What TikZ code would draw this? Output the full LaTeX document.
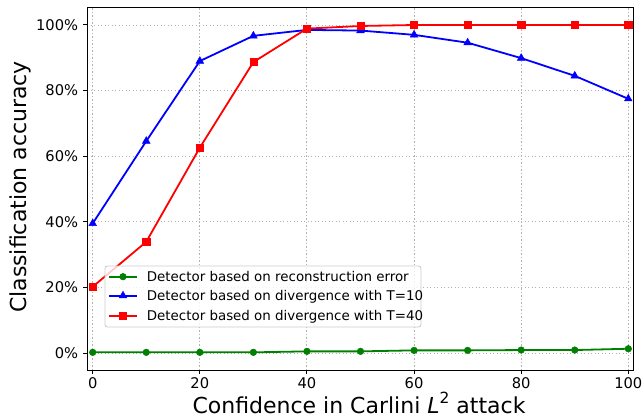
\documentclass[tikz,border=0pt]{standalone}
\usepackage{fontspec}
\setmainfont{DejaVu Sans}
\usetikzlibrary{plotmarks}
\definecolor{mplgreen}{RGB}{0,128,0}
\definecolor{mplblue}{RGB}{0,0,255}
\definecolor{mplred}{RGB}{255,0,0}
\definecolor{gridgray}{RGB}{178,178,178}
\definecolor{legendgray}{RGB}{204,204,204}
\tikzset{
  gridline/.style={gridgray, line width=0.9pt, dash pattern=on 1.3pt off 2.2pt},
  axisframe/.style={black, line width=1pt},
  tickline/.style={black, line width=1pt},
  ticklabel/.style={inner sep=0pt, font=\fontsize{14.7}{17}\selectfont},
  axislabel/.style={inner sep=0pt, font=\fontsize{22}{26}\selectfont},
  legendtext/.style={inner sep=0pt, anchor=base west, font=\fontsize{13.4}{16}\selectfont},
  legendframe/.style={draw=legendgray, line width=0.9pt, fill=white, fill opacity=0.8, rounded corners=2.5pt},
  greenser/.style={mplgreen, line width=1.8pt, mark=*, mark size=3.3pt, mark options={solid, fill=mplgreen, draw=mplgreen, line width=0.5pt}},
  blueser/.style={mplblue, line width=1.8pt, mark=triangle*, mark size=4.4pt, mark options={solid, fill=mplblue, draw=mplblue, line width=0.5pt}},
  redser/.style={mplred, line width=1.8pt, mark=square*, mark size=3.6pt, mark options={solid, fill=mplred, draw=mplred, line width=0.5pt}},
}
\begin{document}
\begin{tikzpicture}[x=1pt,y=-1pt]
\useasboundingbox (0,0) rectangle (642,417);
\begin{scope}[shift={(92.7,353)},x=5.356pt,y=3.28pt]
  % grid
  \foreach \v in {0,20,...,100} \draw[gridline] (\v,-5.2) -- (\v,105.2);
  \foreach \p in {0,20,...,100} \draw[gridline] (-1.06,\p) -- (100.9,\p);
  % series
  \draw[greenser] plot coordinates {(0,0.2) (10,0.2) (20,0.2) (30,0.2) (40,0.5) (50,0.5) (60,0.8) (70,0.8) (80,0.9) (90,0.9) (100,1.3)};
  \draw[blueser] plot coordinates {(0,39.5) (10,64.6) (20,89.0) (30,96.7) (40,98.5) (50,98.3) (60,97.0) (70,94.6) (80,89.9) (90,84.5) (100,77.5)};
  \draw[redser] plot coordinates {(0,20.2) (10,33.9) (20,62.6) (30,88.7) (40,98.9) (50,99.7) (60,100) (70,100) (80,100) (90,100) (100,100)};
  % frame
  \draw[axisframe] (-1.06,-5.2) rectangle (100.9,105.2);
  % ticks and labels
  \foreach \v in {0,20,...,100} {
    \draw[tickline] (\v,-5.2) -- ++(0pt,-4.3pt);
    \node[ticklabel] (xt\v) at (\v,-5.2) [yshift=-13.3pt] {\v};
  }
  \foreach \p in {0,20,...,100} {
    \draw[tickline] (-1.06,\p) -- ++(-4.3pt,0pt);
    \node[ticklabel, anchor=east] (yt\p) at (-1.06,\p) [xshift=-8.7pt] {\p\%};
  }
\end{scope}
% axis labels
\node[axislabel, anchor=base] (xlab) at (359,413) {Confidence in Carlini {\itshape L}\raisebox{0.42em}{\fontsize{15.4}{18}\selectfont 2} attack};
\node[axislabel, anchor=base, rotate=90] (ylab) at (27,187) {Classification accuracy};
% legend
\draw[legendframe] (105,266) rectangle (421,327);
\draw[greenser, mark=none] (109,276.7) -- (137,276.7);
\draw[blueser, mark=none] (109,295.7) -- (137,295.7);
\draw[redser, mark=none] (109,315.7) -- (137,315.7);
\path[greenser] plot[mark=*] coordinates {(123,276.7)};
\path[blueser] plot[mark=triangle*] coordinates {(123,295.7)};
\path[redser] plot[mark=square*] coordinates {(123,315.7)};
\node[legendtext] (l1) at (146.7,281.6) {Detector based on reconstruction error};
\node[legendtext] (l2) at (146.7,300.6) {Detector based on divergence with T=10};
\node[legendtext] (l3) at (146.7,320.6) {Detector based on divergence with T=40};
\end{tikzpicture}
\end{document}
